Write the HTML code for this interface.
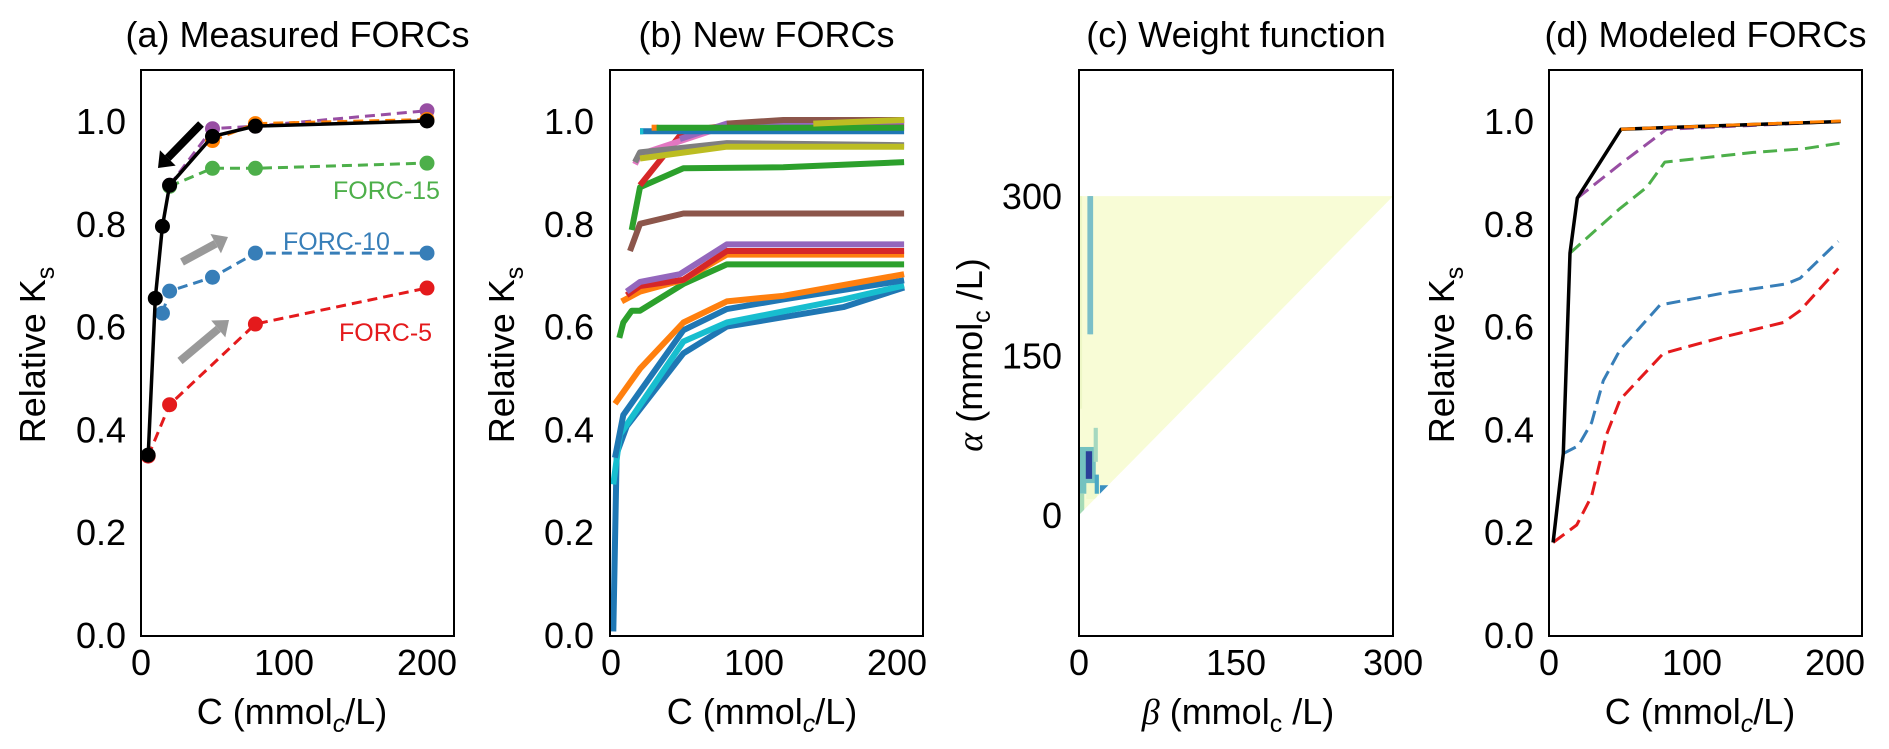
<!DOCTYPE html>
<html><head><meta charset="utf-8">
<style>
html,body{margin:0;padding:0;background:#fff;}
svg{display:block;font-family:"Liberation Sans",Arial,sans-serif;}
</style></head>
<body>
<svg id="fig" width="1889" height="749" viewBox="0 0 1889 749" xmlns="http://www.w3.org/2000/svg"></svg>
<script>
// ---------- data ----------
const yTicks = [0.0, 0.2, 0.4, 0.6, 0.8, 1.0];
const yTickLabels = ["0.0","0.2","0.4","0.6","0.8","1.0"];
const xTicks = [0, 100, 200];
const xTickLabels = ["0","100","200"];
// panel a
const aBlackC = [5,10,15,20,50,80,200];
const aBlackV = [0.35,0.655,0.795,0.875,0.97,0.99,1.0];
const aPurpleC = [20,50,80,200];
const aPurpleV = [0.875,0.985,0.99,1.02];
const aOrangeC = [50,80,200];
const aOrangeV = [0.962,0.995,1.003];
const aGreenC = [20,50,80,200];
const aGreenV = [0.873,0.908,0.908,0.918];
const aBlueC = [15,20,50,80,200];
const aBlueV = [0.626,0.669,0.696,0.743,0.743];
const aRedC = [5,20,80,200];
const aRedV = [0.348,0.448,0.605,0.675];
// panel b (new FORCs)
const bSeries = [
 {c:"#1f77b4", C:[1.6,4,11,50.6,81,162.5,205], V:[0.007,0.353,0.406,0.548,0.6,0.638,0.676]},
 {c:"#17becf", C:[1.6,6.3,50.6,81,162.5,205], V:[0.293,0.39,0.571,0.608,0.653,0.68]},
 {c:"#1f77b4", C:[2.8,8.6,50.6,81,120.5,205], V:[0.345,0.428,0.593,0.634,0.653,0.69]},
 {c:"#ff7f0e", C:[2.8,20.3,50.6,81,120.5,205], V:[0.45,0.518,0.608,0.649,0.66,0.702]},
 {c:"#2ca02c", C:[5.8,8.6,14.5,20.3,50.6,81,205], V:[0.578,0.608,0.631,0.631,0.683,0.721,0.721]},
 {c:"#ff7f0e", C:[7.5,20.3,50.6,81,205], V:[0.649,0.668,0.691,0.74,0.74]},
 {c:"#d62728", C:[11,20.3,50.6,81,205], V:[0.661,0.679,0.691,0.747,0.747]},
 {c:"#9467bd", C:[11,20.3,48.2,81,205], V:[0.668,0.687,0.702,0.76,0.76]},
 {c:"#8c564b", C:[13.3,20.3,50.6,205], V:[0.747,0.8,0.82,0.82]},
 {c:"#2ca02c", C:[14.5,20.3,50.6,120.5,205], V:[0.788,0.871,0.908,0.91,0.92]},
 {c:"#d62728", C:[20.3,50.6,81,205], V:[0.875,0.98,0.991,0.991]},
 {c:"#e377c2", C:[16.8,20.3,81,205], V:[0.916,0.935,0.991,1.002]},
 {c:"#7f7f7f", C:[16.8,20.3,81,205], V:[0.92,0.939,0.957,0.953]},
 {c:"#bcbd22", C:[20.3,81,205], V:[0.927,0.95,0.95]},
 {c:"#9467bd", C:[48.2,81,205], V:[0.965,0.995,0.999]},
 {c:"#8c564b", C:[81,120.5,205], V:[0.995,1.002,1.002]},
 {c:"#1f77b4", C:[20.3,205], V:[0.98,0.98]},
 {c:"#17becf", C:[20.3,22.6], V:[0.98,0.98]},
 {c:"#ff7f0e", C:[28.4,33.1], V:[0.987,0.987]},
 {c:"#2ca02c", C:[31.9,205], V:[0.987,0.987]},
 {c:"#bcbd22", C:[141.5,205], V:[0.995,1.002]}
];
// panel d (modeled FORCs)
const dBlackC = [2.9,10,14.7,19.8,50.4,204];
const dBlackV = [0.18,0.353,0.743,0.85,0.984,0.999];
const dOrangeC = [50.4,204];
const dOrangeV = [0.984,1.0];
const dPurpleC = [19.8,49.7,82.3,204];
const dPurpleV = [0.85,0.916,0.984,0.999];
const dGreenC = [14.7,49.7,68.3,81,142.9,177.9,204];
const dGreenV = [0.743,0.83,0.871,0.92,0.939,0.946,0.957];
const dBlueC = [10,20.5,29.8,38,49.7,77.6,119.6,166,175.5,202.3];
const dBlueV = [0.353,0.368,0.413,0.495,0.555,0.642,0.664,0.683,0.694,0.766];
const dRedC = [2.9,19.4,29.8,40.3,49.7,80,119.6,163.9,175.5,202.3];
const dRedV = [0.18,0.214,0.27,0.39,0.458,0.548,0.578,0.608,0.631,0.713];
// panel c (weight function)
const cTicks = [0,150,300];
const cTickLabels = ["0","150","300"];
const cTriBeta = [0,0,300];
const cTriAlpha = [0,300,300];
// heatmap cells: beta0, beta1, alpha0, alpha1, color
const cCellB0 = [0,0,0,14,7,9.5,8,15,20,6.5];
const cCellB1 = [3,16,5,18,17,13,13.5,19,28,12.5];
const cCellA0 = [100,20,0,50,15,170,170,20,18,34];
const cCellA1 = [300,64,20,82,30,300,300,38,28,60];
const cCellCol = ["#eef7c6","#74c2c0","#a6dbb7","#a5d8c0","#f0f9cc","#9fd3c4","#7bbfc8","#4aa8c4","#3a8fc0","#2b3f99"];

// ---------- drawing ----------
const NS="http://www.w3.org/2000/svg";
const svg=document.getElementById('fig');
function el(tag,attrs,parent){const e=document.createElementNS(NS,tag);for(const k in attrs)e.setAttribute(k,attrs[k]);(parent||svg).appendChild(e);return e;}
const Y0=635, YS=514, TOP=70, BOT=636, FS=36;
const yPix=v=>Y0-v*YS;
function mkX(left){return c=>left+c*1.43;}
function pathOf(xs,ys,xf){return xs.map((c,i)=>(i?'L':'M')+xf(c).toFixed(1)+' '+yPix(ys[i]).toFixed(1)).join(' ');}

function frame(name,left,right,title){
  const g=el('g',{});
  
  
  const t=el('text',{x:(left+right)/2,y:47,'font-size':FS,'text-anchor':'middle'},g);
  t.textContent=title;
  
  
  return g;
}
function box(g,left,right,name){
  const r=el('rect',{x:left,y:TOP,width:right-left,height:BOT-TOP,fill:'none',stroke:'#000','stroke-width':2},g);
  
  
}
function yAxis(g,tickRight,labelX,name){
  yTicks.forEach((v,i)=>{
    const t=el('text',{x:tickRight,y:yPix(v)+13,'font-size':FS,'text-anchor':'end'},g);
    t.textContent=yTickLabels[i];
    
    
  });
  const yl=el('text',{x:0,y:0,'font-size':FS,'text-anchor':'middle',transform:`translate(${labelX+12},355) rotate(-90)`},g);
  yl.innerHTML='Relative K<tspan font-size="25" dy="9">s</tspan>';
  
  
}
function xAxis(g,xf,name){
  xTicks.forEach((c,i)=>{
    const t=el('text',{x:xf(c),y:675,'font-size':FS,'text-anchor':'middle'},g);
    t.textContent=xTickLabels[i];
    
    
  });
  const cx=(xf(0)+xf(200))/2+8;
  const xl=el('text',{x:cx,y:724,'font-size':FS,'text-anchor':'middle'},g);
  xl.innerHTML='C (mmol<tspan font-size="25" font-style="italic" dy="8">c</tspan><tspan dy="-8">/L)</tspan>';
  
  
}
function line(g,xs,ys,xf,color,w,dash,name){
  const p=el('path',{d:pathOf(xs,ys,xf),fill:'none',stroke:color,'stroke-width':w,'stroke-linejoin':'round'},g);
  if(dash)p.setAttribute('stroke-dasharray',dash);
  
  
  return p;
}
function dots(g,xs,ys,xf,color,name){
  xs.forEach((c,i)=>{
    const d=el('circle',{cx:xf(c),cy:yPix(ys[i]),r:7.5,fill:color},g);
    
    
  });
}
function arrow(g,x1,y1,x2,y2,color,w,name){
  const dx=x2-x1,dy=y2-y1,L=Math.hypot(dx,dy),ux=dx/L,uy=dy/L;
  const hl=14,hw=11;
  const bx=x2-ux*hl,by=y2-uy*hl;
  const a=el('g',{},g);
  
  
  el('line',{x1:x1,y1:y1,x2:bx,y2:by,stroke:color,'stroke-width':w},a);
  el('polygon',{points:`${x2},${y2} ${bx-uy*hw},${by+ux*hw} ${bx+uy*hw},${by-ux*hw}`,fill:color},a);
}

// Panel a
{
  const L=141,R=454,xf=mkX(L);
  const g=frame('panel-a',L,R,'(a) Measured FORCs');
  yAxis(g,126,33,'panel-a'); xAxis(g,xf,'panel-a');
  line(g,aRedC,aRedV,xf,'#e41a1c',3,'10,6','forc-5-line');
  line(g,aBlueC,aBlueV,xf,'#377eb8',3,'10,6','forc-10-line');
  line(g,aGreenC,aGreenV,xf,'#4daf4a',3,'10,6','forc-15-line');
  line(g,aPurpleC,aPurpleV,xf,'#984ea3',3,'10,6','forc-purple-line');
  line(g,aOrangeC,aOrangeV,xf,'#ff7f00',3,'10,6','forc-orange-line');
  dots(g,aRedC,aRedV,xf,'#e41a1c','forc-5-point');
  dots(g,aBlueC,aBlueV,xf,'#377eb8','forc-10-point');
  dots(g,aGreenC,aGreenV,xf,'#4daf4a','forc-15-point');
  dots(g,aPurpleC,aPurpleV,xf,'#984ea3','forc-purple-point');
  dots(g,aOrangeC,aOrangeV,xf,'#ff7f00','forc-orange-point');
  line(g,aBlackC,aBlackV,xf,'#000',3.5,null,'boundary-curve');
  dots(g,aBlackC,aBlackV,xf,'#000','boundary-point');
  arrow(g,201,124,158,168,'#000',8,'descending-arrow');
  arrow(g,182,262,228,237,'#999',8,'ascending-arrow-upper');
  arrow(g,180,361,229,320,'#999',8,'ascending-arrow-lower');
  const lab=[['FORC-15','#4daf4a',333,199],['FORC-10','#377eb8',283,250],['FORC-5','#e41a1c',339,341]];
  lab.forEach(l=>{const t=el('text',{x:l[2],y:l[3],'font-size':25,fill:l[1]},g);t.textContent=l[0];
    
    });
  box(g,L,R,'panel-a');
}
// Panel b
{
  const L=610,R=923,xf=mkX(611);
  const g=frame('panel-b',L,R,'(b) New FORCs');
  yAxis(g,594,502,'panel-b'); xAxis(g,xf,'panel-b');
  bSeries.forEach(s=>line(g,s.C,s.V,xf,s.c,6,null,'new-forc-line'));
  box(g,L,R,'panel-b');
}
// Panel c
{
  const L=1079,R=1393;
  const bx=b=>L+b*1.047, ay=a=>515-a*1.063;
  const g=frame('panel-c',L,R,'(c) Weight function');
  cTicks.forEach((v,i)=>{
    const t=el('text',{x:1062,y:ay(v)+13,'font-size':FS,'text-anchor':'end'},g);
    t.textContent=cTickLabels[i];
    
    
    const u=el('text',{x:bx(v),y:675,'font-size':FS,'text-anchor':'middle'},g);
    u.textContent=cTickLabels[i];
    
    
  });
  const yl=el('text',{x:0,y:0,'font-size':FS,'text-anchor':'middle',transform:'translate(982,355) rotate(-90)'},g);
  yl.innerHTML='<tspan font-family="Liberation Serif" font-style="italic">α</tspan> (mmol<tspan font-size="25" dy="8">c</tspan><tspan dy="-8"> /L)</tspan>';
  
  
  const xl=el('text',{x:1238,y:724,'font-size':FS,'text-anchor':'middle'},g);
  xl.innerHTML='<tspan font-family="Liberation Serif" font-style="italic">β</tspan> (mmol<tspan font-size="25" dy="8">c</tspan><tspan dy="-8"> /L)</tspan>';
  
  
  const tri=el('polygon',{points:cTriBeta.map((b,i)=>bx(b)+','+ay(cTriAlpha[i])).join(' '),fill:'#f8fcd6'},g);
  
  
  cCellB0.forEach((b,i)=>{
    const r=el('rect',{x:bx(b),y:ay(cCellA1[i]),width:bx(cCellB1[i])-bx(b),height:ay(cCellA0[i])-ay(cCellA1[i]),fill:cCellCol[i]},g);
    
    
  });
  const mask=el('polygon',{points:`${bx(0)},${ay(0)} ${bx(40)},${ay(40)} ${bx(40)},${ay(-5)} ${bx(0)},${ay(-5)}`,fill:'#fff'},g);
  
  
  const r=el('rect',{x:L,y:TOP,width:R-L,height:BOT-TOP,fill:'none',stroke:'#000','stroke-width':2},g);
  
  
}
// Panel d
{
  const L=1549,R=1862,xf=mkX(1549);
  const g=frame('panel-d',L,R,'(d) Modeled FORCs');
  yAxis(g,1534,1442,'panel-d'); xAxis(g,xf,'panel-d');
  line(g,dRedC,dRedV,xf,'#e41a1c',3,'14,7','modeled-forc-5');
  line(g,dBlueC,dBlueV,xf,'#377eb8',3,'14,7','modeled-forc-10');
  line(g,dGreenC,dGreenV,xf,'#4daf4a',3,'14,7','modeled-forc-15');
  line(g,dPurpleC,dPurpleV,xf,'#984ea3',3,'14,7','modeled-forc-purple');
  line(g,dBlackC,dBlackV,xf,'#000',3.5,null,'modeled-boundary-curve');
  line(g,dOrangeC,dOrangeV,xf,'#ff7f00',3,'14,7','modeled-forc-orange');
  box(g,L,R,'panel-d');
}
</script>
</body></html>
